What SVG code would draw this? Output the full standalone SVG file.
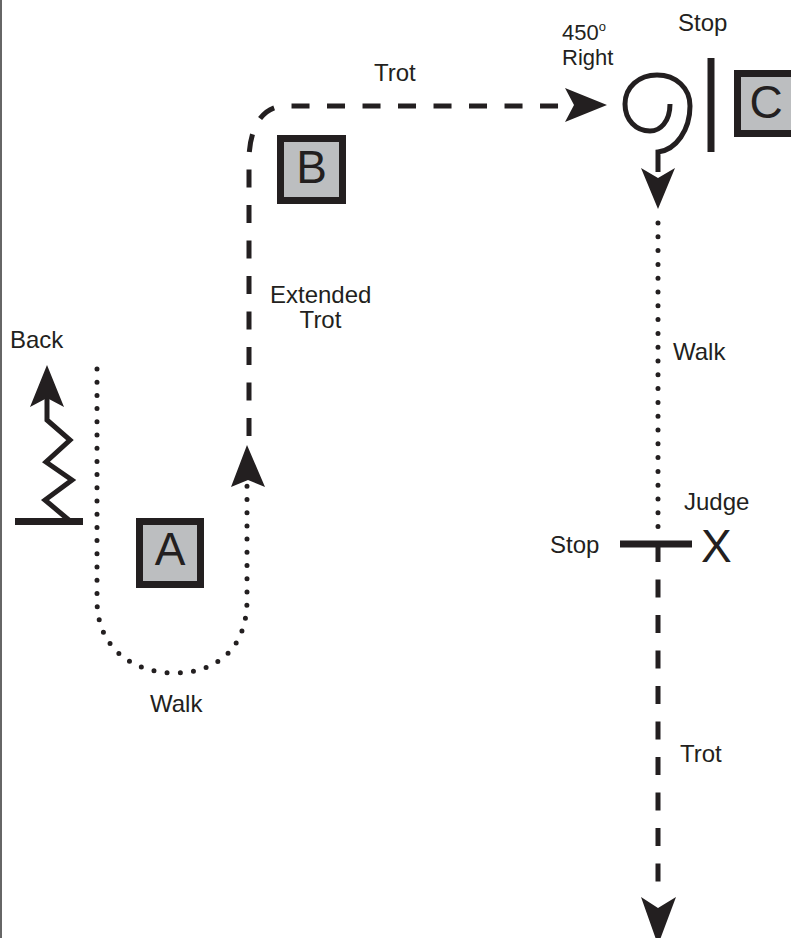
<svg xmlns="http://www.w3.org/2000/svg" width="791" height="938" viewBox="0 0 791 938">
<style>
text { font-family: "Liberation Sans", Arial, sans-serif; fill: #231f20; }
.lbl { font-size: 24px; }
.sm { font-size: 22px; }
.box rect { fill: #bcbec0; stroke: #231f20; stroke-width: 7; }
.box text { font-size: 46px; text-anchor: middle; }
.dash { fill: none; stroke: #231f20; stroke-width: 5; stroke-dasharray: 18 17.5; }
.dot { fill: none; stroke: #231f20; stroke-width: 5; stroke-linecap: round; }
.solid { fill: none; stroke: #231f20; stroke-width: 5; }
.bar { fill: none; stroke: #231f20; stroke-width: 7; }
.head { fill: #231f20; stroke: none; }
</style>
<rect x="0" y="0" width="791" height="938" fill="#ffffff"/>
<line x1="1" y1="0" x2="1" y2="938" stroke="#666666" stroke-width="2"/>

<g id="connectors">
  <g id="back-arrow">
    <line class="bar" x1="15" y1="521.5" x2="83" y2="521.5" stroke-width="6"/>
    <polyline class="solid" points="70,521 45,500 72,480 46,462 70,440 47,420 47,398"/>
    <polygon class="head" points="47,365 64,407 47,398 30,407"/>
  </g>
  <path class="dot" d="M 97 369 L 97 600 C 97 650 135 673 175 673 C 215 673 247 650 247 600 L 247 484" stroke-dasharray="0 13.2"/>
  <polygon class="head" points="247,445 265,487 248,480 231,487"/>
  <path class="dash" d="M 249 436 V 160 C 249 135 258 106 285 106 H 568"/>
  <polygon class="head" points="607,105 565,122 574,105 565,88"/>
  <path class="solid" d="M 670 104 C 670 122 660 131 650 131 C 636 131 625 120 625 104 C 625 87 639 75 657 75 C 676 75 690 88 690 106 C 690 130 676 150 658 152 L 658 172"/>
  <polygon class="head" points="658,209 675,168 658,178 641,168"/>
  <line class="bar" x1="711" y1="58" x2="711" y2="152"/>
  <path class="dot" d="M 658 223 L 658 540" stroke-dasharray="0 13.8"/>
  <line class="bar" x1="620" y1="544" x2="692" y2="544"/>
  <path class="dash" d="M 658 544 V 897" stroke-dasharray="19 18"/>
  <polygon class="head" points="658,945 676,897 658,908 641,897"/>
</g>

<g id="node-A" class="box">
  <rect x="139.5" y="521.5" width="61" height="63"/>
  <text x="170" y="565">A</text>
</g>
<g id="node-B" class="box">
  <rect x="280.5" y="138.5" width="62" height="62"/>
  <text x="311.5" y="183">B</text>
</g>
<g id="node-C" class="box">
  <rect x="737.5" y="73.5" width="64" height="60"/>
  <text x="766" y="118">C</text>
</g>

<g id="labels">
  <text class="lbl" x="10" y="348">Back</text>
  <text class="lbl" x="150" y="712">Walk</text>
  <text class="lbl" x="270" y="303">Extended</text>
  <text class="lbl" x="320.5" y="328" text-anchor="middle">Trot</text>
  <text class="lbl" x="374" y="81">Trot</text>
  <text class="sm" x="562" y="40">450<tspan font-size="13" dy="-9">o</tspan></text>
  <text class="sm" x="562" y="65">Right</text>
  <text class="lbl" x="678" y="31">Stop</text>
  <text class="lbl" x="673" y="360">Walk</text>
  <text class="lbl" x="684" y="510">Judge</text>
  <text class="lbl" x="550" y="553">Stop</text>
  <text x="701" y="562" font-size="46">X</text>
  <text class="lbl" x="680" y="762">Trot</text>
</g>
</svg>
